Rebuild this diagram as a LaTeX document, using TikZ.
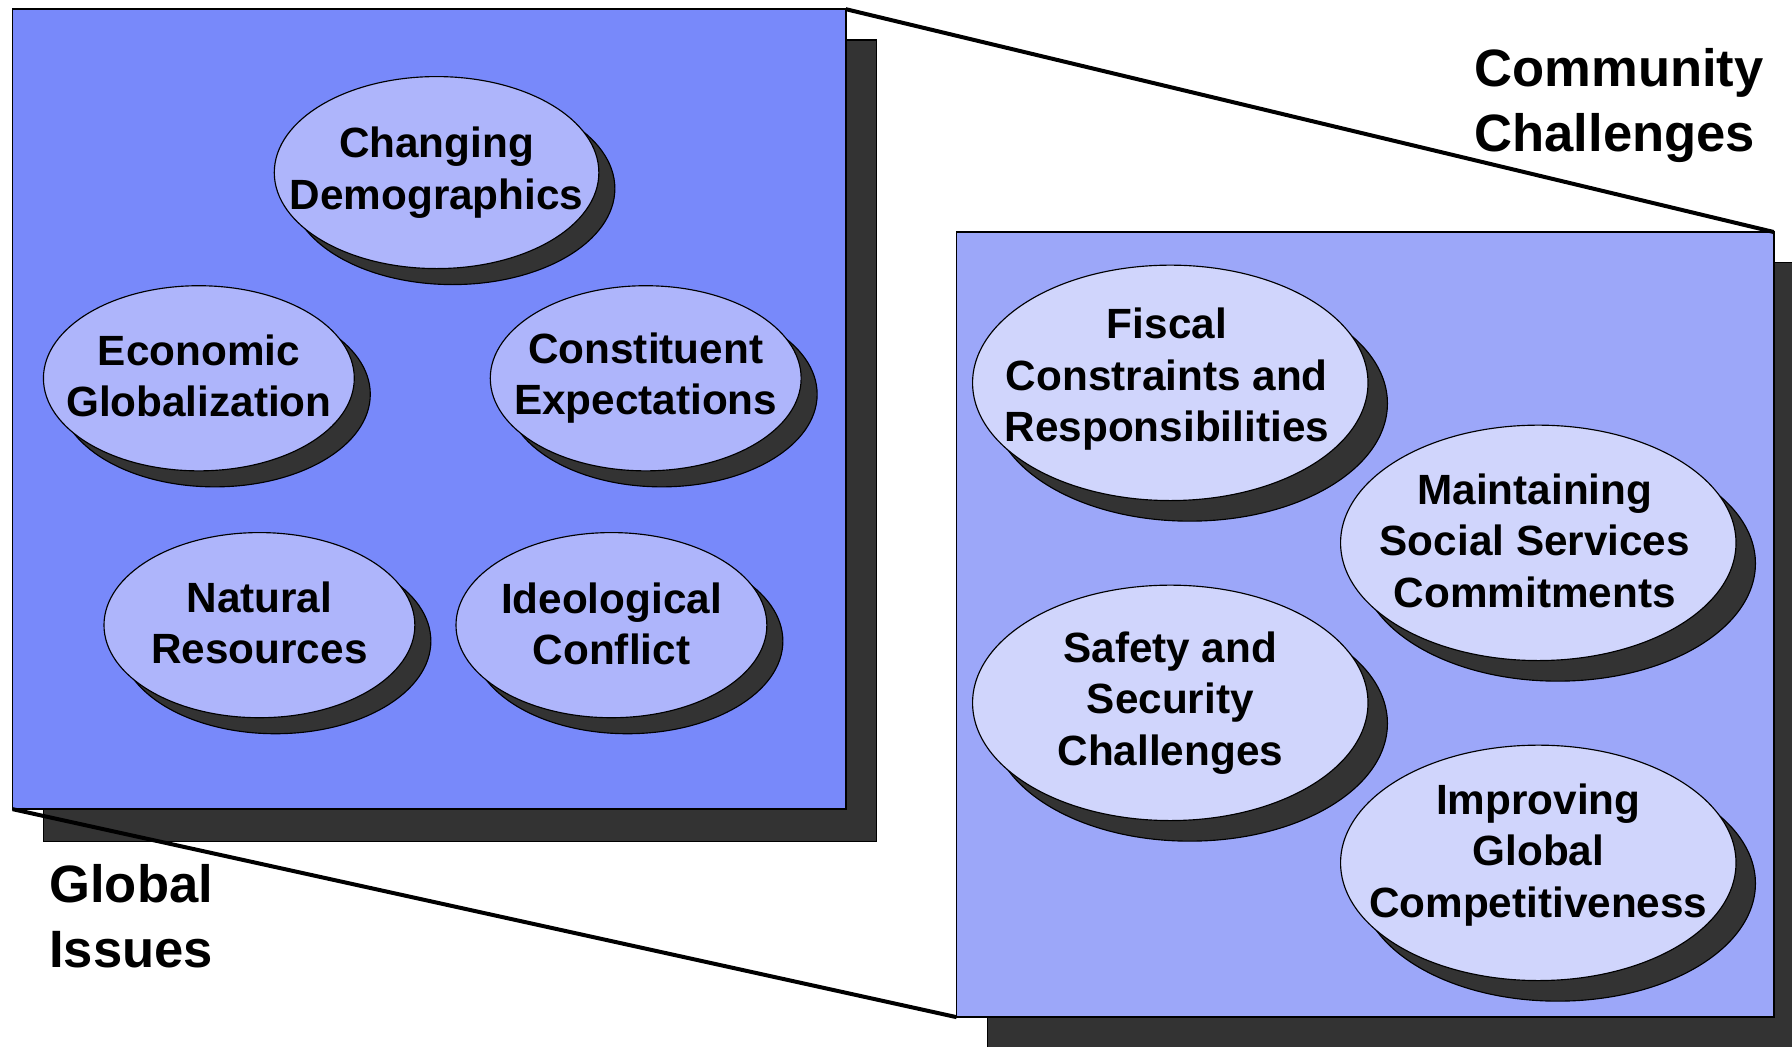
\documentclass[tikz,border=0pt]{standalone}
\usepackage{fontspec}
\setmainfont{Liberation Sans}
\usetikzlibrary{shapes.geometric,shadows}
\definecolor{leftbox}{RGB}{120,137,250}
\definecolor{leftell}{RGB}{174,181,251}
\definecolor{rightbox}{RGB}{156,167,249}
\definecolor{rightell}{RGB}{208,213,252}
\definecolor{shadowgray}{RGB}{51,51,51}
\tikzset{
  panel/.style={draw=black, line width=1.5pt},
  panelshadow/.style={fill=shadowgray, draw=black, line width=1pt},
  zoomline/.style={draw=black, line width=3.5pt},
  ellbase/.style={ellipse, draw=black, line width=1pt, inner sep=0pt, outer sep=0pt},
  lell/.style={ellbase, fill=leftell, minimum width=272pt, minimum height=162pt,
    general shadow={shadow xshift=14pt, shadow yshift=-14pt, fill=shadowgray, draw=black, line width=1pt}},
  rell/.style={ellbase, fill=rightell, minimum width=346pt, minimum height=206pt,
    general shadow={shadow xshift=17pt, shadow yshift=-18pt, fill=shadowgray, draw=black, line width=1pt}},
  etext/.style={align=center, inner sep=0pt, font=\fontsize{37}{45}\selectfont\bfseries},
  title/.style={align=left, anchor=north west, inner sep=0pt, font=\fontsize{46}{57}\selectfont\bfseries}
}
\begin{document}
\begin{tikzpicture}[x=1pt,y=-1pt]
\useasboundingbox (0,0) rectangle (1568,916);
\clip (0,0) rectangle (1568,916);
\fill[white] (0,0) rectangle (1568,916);
% shadows of panels
\draw[panelshadow] (38,35) rectangle (767,736);
\draw[panelshadow] (864,230) rectangle (1600,950);
% panels
\draw[panel, fill=leftbox] (11,8) rectangle (740,708);
\coordinate (ltr) at (740,8);
\coordinate (lbl) at (11,708);
\draw[panel, fill=rightbox] (837,203) rectangle (1552,890);
\coordinate (rtr) at (1552,203);
\coordinate (rbl) at (837,890);
% zoom lines
\draw[zoomline] (ltr) -- (rtr);
\draw[zoomline] (lbl) -- (rbl);
% left ellipses
\node[lell, minimum width=284pt, minimum height=168pt] (cd) at (382,151) {};
\node[etext] (cdt) at (cd) {Changing\\Demographics};
\node[lell] (eg) at (174,331) {};
\node[etext] (egt) at ([yshift=2pt]eg) {Economic\\Globalization};
\node[lell] (ce) at (565,331) {};
\node[etext] (cet) at (ce) {Constituent\\Expectations};
\node[lell] (nr) at (227,547) {};
\node[etext] (nrt) at ([yshift=2pt]nr) {Natural\\Resources};
\node[lell] (ic) at (535,547) {};
\node[etext] (ict) at ([yshift=1pt]ic) {Ideological\\Conflict};
% right ellipses
\node[rell] (fc) at (1024,335) {};
\node[etext] (fct) at ([xshift=-3pt,yshift=3pt]fc) {Fiscal\\Constraints and\\Responsibilities};
\node[rell] (ms) at (1346,475) {};
\node[etext] (mst) at ([xshift=-3pt,yshift=2pt]ms) {Maintaining\\Social Services\\Commitments};
\node[rell] (ss) at (1024,615) {};
\node[etext] (sst) at (ss) {Safety and\\Security\\Challenges};
\node[rell] (ig) at (1346,755) {};
\node[etext] (igt) at ([yshift=7pt]ig) {Improving\\Global\\Competitiveness};
% titles
\node[title] (cc) at (1290,42) {Community\\Challenges};
\node[title] (gi) at (43,756) {Global\\Issues};
\end{tikzpicture}
\end{document}
